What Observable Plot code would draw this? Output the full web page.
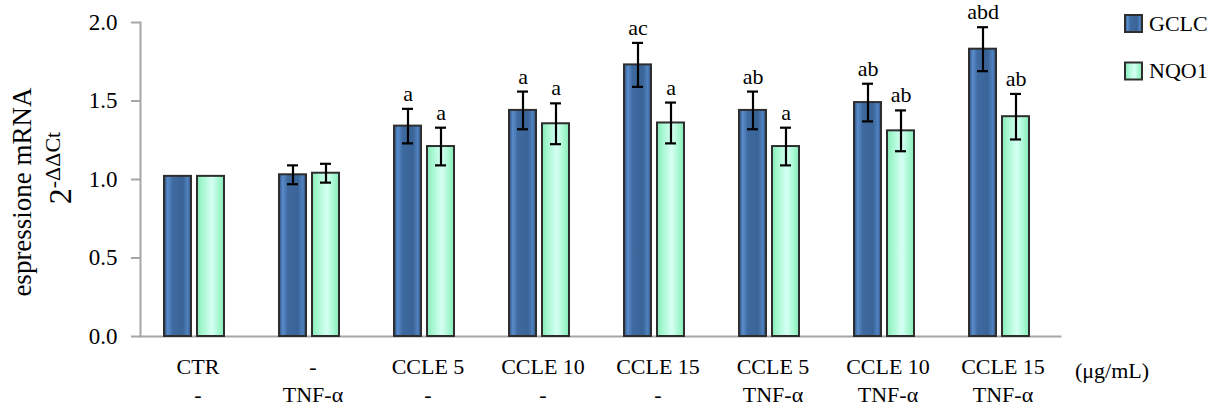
<!DOCTYPE html>
<html><head><meta charset="utf-8">
<script src="https://cdn.jsdelivr.net/npm/d3@7"></script>
<script src="https://cdn.jsdelivr.net/npm/@observablehq/plot@0.6"></script>
<style>body{margin:0;background:#fff} #chart{width:1223px;height:410px} #chart svg text{font-family:"Liberation Serif","Times New Roman",serif !important;}</style>
</head><body><div id="chart"></div>
<script>
const groupLine1 = ["CTR", "-", "CCLE 5", "CCLE 10", "CCLE 15", "CCLE 5", "CCLE 10", "CCLE 15"];
const groupLine2 = ["-", "TNF-α", "-", "-", "-", "TNF-α", "TNF-α", "TNF-α"];
const series = ["GCLC", "NQO1"];
const gclcMean = [1.02, 1.03, 1.34, 1.44, 1.73, 1.44, 1.49, 1.83];
const gclcErr  = [0, 0.06, 0.11, 0.12, 0.14, 0.12, 0.12, 0.14];
const nqo1Mean = [1.02, 1.04, 1.21, 1.355, 1.36, 1.21, 1.31, 1.40];
const nqo1Err  = [0, 0.06, 0.12, 0.13, 0.13, 0.12, 0.13, 0.145];
const gclcLetters = ["", "", "a", "a", "ac", "ab", "ab", "abd"];
const nqo1Letters = ["", "", "a", "a", "a", "a", "ab", "ab"];
const yTicks = [0, 0.5, 1, 1.5, 2];
const unitLabel = "(μg/mL)";
const yLabel1 = "espressione mRNA";
const yLabelBase = "2";
const yLabelSup = "-ΔΔCt";

const FONT = "Liberation Serif";
const keys = groupLine1.map((d, i) => d + "\n" + groupLine2[i]);
const groupRows = keys.map((k, i) => ({key: k, l1: groupLine1[i], l2: groupLine2[i]}));
const rows = [];
keys.forEach((k, i) => {
  rows.push({group: k, series: "GCLC", mean: gclcMean[i], err: gclcErr[i], letter: gclcLetters[i]});
  rows.push({group: k, series: "NQO1", mean: nqo1Mean[i], err: nqo1Err[i], letter: nqo1Letters[i]});
});
const errRows = rows.filter(d => d.err > 0);
const letterRows = rows.filter(d => d.letter);

const plot = Plot.plot({
  width: 1223, height: 410,
  marginLeft: 137, marginRight: 161, marginTop: 22, marginBottom: 74,
  style: {fontFamily: FONT, fontSize: "22px", background: "white", color: "black"},
  fx: {domain: keys, padding: 0, axis: null, label: null},
  x: {domain: series, paddingInner: 0.18, paddingOuter: 0.815, axis: null, label: null},
  y: {domain: [0, 2], axis: null, label: null},
  color: {domain: series, range: ["url(#gradGCLC)", "url(#gradNQO1)"]},
  marks: [
    Plot.frame({anchor: "bottom", facet: "super", stroke: "#a6a6a6", strokeWidth: 2}),
    Plot.frame({anchor: "left", facet: "super", stroke: "#a6a6a6", strokeWidth: 2}),
    Plot.axisY(yTicks, {tickFormat: d3.format(".1f"), tickSize: 9, tickPadding: 14, fontSize: 23, fontFamily: FONT, stroke: "#a6a6a6", fill: "black", strokeWidth: 2, label: null}),
    Plot.barY(rows, {fx: "group", x: "series", y: "mean", fill: "series", stroke: "#2e2e2e", strokeWidth: 2, dx: -3}),
    Plot.ruleX(errRows, {fx: "group", x: "series", y1: d => d.mean - d.err, y2: d => d.mean + d.err, stroke: "black", strokeWidth: 2.2, dx: -3}),
    Plot.tickY(errRows, {fx: "group", x: "series", y: d => d.mean + d.err, stroke: "black", strokeWidth: 2.2, insetLeft: 8, insetRight: 8, dx: -3}),
    Plot.tickY(errRows, {fx: "group", x: "series", y: d => d.mean - d.err, stroke: "black", strokeWidth: 2.2, insetLeft: 8, insetRight: 8, dx: -3}),
    Plot.text(letterRows, {fx: "group", x: "series", y: d => d.mean + d.err, text: "letter", lineAnchor: "bottom", dy: -8, dx: -3, fontSize: 22, fontFamily: FONT, fill: "black"}),
    Plot.text(groupRows, {fx: "key", text: "l1", frameAnchor: "bottom", dy: 37, fontSize: 22, fontFamily: FONT, fill: "black"}),
    Plot.text(groupRows, {fx: "key", text: "l2", frameAnchor: "bottom", dy: 65, fontSize: 22, fontFamily: FONT, fill: "black"})
  ]
});
document.getElementById("chart").appendChild(plot);

const svg = d3.select(plot.tagName.toLowerCase() === "svg" ? plot : plot.querySelector("svg"));
const defs = svg.insert("defs", ":first-child");
function grad(id, stops) {
  const g = defs.append("linearGradient").attr("id", id).attr("x1", "0").attr("x2", "1").attr("y1", "0").attr("y2", "0");
  stops.forEach(([o, c]) => g.append("stop").attr("offset", o).attr("stop-color", c));
}
grad("gradGCLC", [["0%", "#2b4f7e"], ["14%", "#5b8dcc"], ["32%", "#3e6aa0"], ["70%", "#3a6497"], ["88%", "#5082c0"], ["100%", "#2b4f7e"]]);
grad("gradNQO1", [["0%", "#86eab6"], ["18%", "#a2f7cd"], ["55%", "#d6fff4"], ["82%", "#a4f7cf"], ["100%", "#86eab6"]]);

// legend
const leg = svg.append("g").attr("font-size", 22).attr("text-anchor", "start");
[["GCLC", "url(#gradGCLC)", 23.5], ["NQO1", "url(#gradNQO1)", 71]].forEach(([t, f, cy]) => {
  leg.append("rect").attr("x", 1125).attr("y", cy - 8.5).attr("width", 17).attr("height", 17)
    .attr("fill", f).attr("stroke", "#2e2e2e").attr("stroke-width", 2);
  leg.append("text").attr("x", 1149).attr("y", cy).attr("dy", "0.34em").text(t);
});
// unit
svg.append("text").attr("x", 1075).attr("y", 371).attr("dy", "0.32em").attr("text-anchor", "start")
  .attr("font-size", 22).text(unitLabel);
// y label
svg.append("text").attr("transform", "translate(31,192) rotate(-90)").attr("text-anchor", "middle")
  .attr("font-size", 27).text(yLabel1);
const t2 = svg.append("text").attr("transform", "translate(71,168) rotate(-90)").attr("text-anchor", "middle")
  .attr("font-size", 32);
t2.append("tspan").text(yLabelBase);
t2.append("tspan").attr("font-size", 22).attr("dy", -11).text(yLabelSup);
</script>
</body></html>
